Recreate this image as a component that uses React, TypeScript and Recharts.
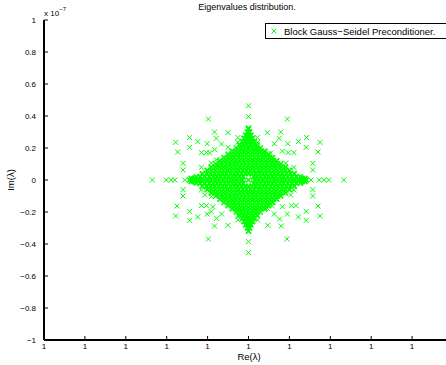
import { ScatterChart, Scatter, XAxis, YAxis } from "recharts";

// x axis: offset of Re(lambda) from 1, in tick steps (every tick reads "1")
const xTicks = [-5, -4, -3, -2, -1, 0, 1, 2, 3, 4];
// y axis: Im(lambda) in units of 1e-7
const yTicks = [-1, -0.8, -0.6, -0.4, -0.2, 0, 0.2, 0.4, 0.6, 0.8, 1];

// dense core of the cloud, row by row: [im, re values]
const coreRows: [number, number[]][] = [
  [0.32, [0.0]],
  [0.3, [-0.03, 0.03]],
  [0.28, [-0.07, 0.0, 0.06]],
  [0.26, [-0.11, -0.03, 0.04, 0.1]],
  [0.24, [-0.15, -0.07, 0.0, 0.07, 0.14]],
  [0.22, [-0.22, -0.13, -0.05, 0.04, 0.12, 0.21]],
  [0.2, [-0.3, -0.21, -0.12, -0.04, 0.05, 0.13, 0.21, 0.29]],
  [0.18, [-0.4, -0.31, -0.22, -0.13, -0.05, 0.05, 0.14, 0.22, 0.31, 0.4]],
  [0.16, [-0.5, -0.41, -0.32, -0.23, -0.14, -0.05, 0.05, 0.14, 0.23, 0.32, 0.41, 0.49]],
  [0.14, [-0.6, -0.51, -0.42, -0.33, -0.24, -0.15, -0.05, 0.05, 0.15, 0.24, 0.33, 0.42, 0.51, 0.59]],
  [0.12, [-0.7, -0.61, -0.52, -0.42, -0.33, -0.24, -0.14, -0.05, 0.05, 0.14, 0.24, 0.33, 0.42, 0.52, 0.61, 0.69]],
  [0.1, [-0.8, -0.71, -0.62, -0.52, -0.43, -0.34, -0.25, -0.15, -0.05, 0.05, 0.15, 0.24, 0.34, 0.43, 0.52, 0.62, 0.71, 0.79]],
  [0.08, [-0.91, -0.81, -0.71, -0.61, -0.52, -0.42, -0.33, -0.23, -0.14, -0.04, 0.05, 0.14, 0.24, 0.33, 0.43, 0.52, 0.62, 0.71, 0.8, 0.9]],
  [0.06, [-1.01, -0.91, -0.81, -0.71, -0.62, -0.52, -0.43, -0.33, -0.24, -0.14, -0.05, 0.05, 0.14, 0.24, 0.33, 0.43, 0.52, 0.62, 0.71, 0.81, 0.9, 1.0]],
  [0.04, [-1.13, -1.02, -0.92, -0.82, -0.72, -0.63, -0.54, -0.44, -0.35, -0.26, -0.17, -0.08, 0.0, 0.08, 0.17, 0.26, 0.35, 0.44, 0.54, 0.63, 0.72, 0.82, 0.92, 1.02, 1.12]],
  [0.02, [-1.28, -1.18, -1.07, -0.96, -0.86, -0.77, -0.68, -0.58, -0.49, -0.4, -0.31, -0.22, -0.13, 0.13, 0.21, 0.3, 0.4, 0.49, 0.58, 0.67, 0.77, 0.86, 0.96, 1.06, 1.17, 1.27]],
  [0.01, [-1.4, -1.33, 1.31, 1.38]],
  [0.0, [-1.44, -1.37, -1.3, -1.22, -1.15, -1.07, -0.99, -0.92, -0.84, -0.76, -0.69, -0.61, -0.53, -0.45, -0.38, -0.3, -0.22, -0.15, 0.0, 0.15, 0.22, 0.3, 0.37, 0.45, 0.53, 0.61, 0.68, 0.76, 0.84, 0.91, 0.99, 1.07, 1.14, 1.22, 1.29, 1.36, 1.41]],
  [-0.01, [-1.4, -1.33, 1.31, 1.38]],
  [-0.02, [-1.28, -1.18, -1.07, -0.96, -0.86, -0.77, -0.68, -0.58, -0.49, -0.4, -0.31, -0.22, -0.13, 0.13, 0.21, 0.3, 0.4, 0.49, 0.58, 0.67, 0.77, 0.86, 0.96, 1.06, 1.17, 1.27]],
  [-0.04, [-1.13, -1.02, -0.92, -0.82, -0.72, -0.63, -0.54, -0.44, -0.35, -0.26, -0.17, -0.08, 0.0, 0.08, 0.17, 0.26, 0.35, 0.44, 0.54, 0.63, 0.72, 0.82, 0.92, 1.02, 1.12]],
  [-0.06, [-1.01, -0.91, -0.81, -0.71, -0.62, -0.52, -0.43, -0.33, -0.24, -0.14, -0.05, 0.05, 0.14, 0.24, 0.33, 0.43, 0.52, 0.62, 0.71, 0.81, 0.9, 1.0]],
  [-0.08, [-0.91, -0.81, -0.71, -0.61, -0.52, -0.42, -0.33, -0.23, -0.14, -0.04, 0.05, 0.14, 0.24, 0.33, 0.43, 0.52, 0.62, 0.71, 0.8, 0.9]],
  [-0.1, [-0.8, -0.71, -0.62, -0.52, -0.43, -0.34, -0.25, -0.15, -0.05, 0.05, 0.15, 0.24, 0.34, 0.43, 0.52, 0.62, 0.71, 0.79]],
  [-0.12, [-0.7, -0.61, -0.52, -0.42, -0.33, -0.24, -0.14, -0.05, 0.05, 0.14, 0.24, 0.33, 0.42, 0.52, 0.61, 0.69]],
  [-0.14, [-0.6, -0.51, -0.42, -0.33, -0.24, -0.15, -0.05, 0.05, 0.15, 0.24, 0.33, 0.42, 0.51, 0.59]],
  [-0.16, [-0.5, -0.41, -0.32, -0.23, -0.14, -0.05, 0.05, 0.14, 0.23, 0.32, 0.41, 0.49]],
  [-0.18, [-0.4, -0.31, -0.22, -0.13, -0.05, 0.05, 0.14, 0.22, 0.31, 0.4]],
  [-0.2, [-0.3, -0.21, -0.12, -0.04, 0.05, 0.13, 0.21, 0.29]],
  [-0.22, [-0.22, -0.13, -0.05, 0.04, 0.12, 0.21]],
  [-0.24, [-0.15, -0.07, 0.0, 0.07, 0.14]],
  [-0.26, [-0.11, -0.03, 0.04, 0.1]],
  [-0.28, [-0.07, 0.0, 0.06]],
  [-0.3, [-0.03, 0.03]],
  [-0.32, [0.0]],
];

// scattered eigenvalues around the core: [re, im]
const outliers: [number, number][] = [
  [0, 0.464], [0, 0.396], [0, 0.327],
  [0, -0.319], [0, -0.385], [0, -0.454],
  [-0.98, 0.381], [0.95, 0.381],
  [-0.83, 0.3], [-0.5, 0.296], [0.46, 0.296], [0.79, 0.3],
  [-1.44, 0.265], [-0.79, 0.26], [-0.26, 0.265], [0.22, 0.265], [0.75, 0.26], [1.42, 0.265],
  [-1.78, 0.235], [-1.24, 0.24], [-1.01, 0.227], [-0.66, 0.225], [-0.26, 0.235], [0.22, 0.235],
  [0.63, 0.227], [0.96, 0.227], [1.22, 0.24], [1.75, 0.235],
  [-1.44, 0.204], [-0.5, 0.204], [-0.83, 0.19], [1.41, 0.204],
  [-1.73, 0.175], [-1.15, 0.171], [-1.03, 0.171], [-0.95, 0.169], [0.54, 0.169], [0.83, 0.18],
  [0.97, 0.171], [1.11, 0.171], [1.7, 0.175],
  [-1.6, 0.104], [-1.6, 0.0625], [1.57, 0.104], [1.57, 0.0625],
  [-1.15, 0.079], [-0.91, 0.106], [-0.79, 0.127], [1.11, 0.079], [0.91, 0.106],
  [-2.35, 0], [-2.01, 0], [-1.89, 0], [-1.8, 0], [-1.56, 0],
  [1.53, 0], [1.73, 0], [1.85, 0], [1.96, 0], [2.33, 0],
  [-1.6, -0.06], [-1.6, -0.1], [1.57, -0.06], [1.57, -0.1],
  [-1.15, -0.0625], [-1.07, -0.094], [-0.91, -0.104], [1.11, -0.0625], [1.03, -0.094],
  [-1.75, -0.1625], [-1.15, -0.16], [-1.03, -0.16], [-0.87, -0.167], [0.46, -0.177], [0.58, -0.1625],
  [0.83, -0.167], [1.05, -0.16], [1.16, -0.16], [1.7, -0.1625],
  [-1.44, -0.196], [-0.91, -0.198], [1.41, -0.196],
  [-1.78, -0.225], [-1.24, -0.231], [-1.01, -0.2125], [-0.66, -0.2125], [-0.26, -0.225], [0.22, -0.225],
  [0.63, -0.2125], [0.95, -0.213], [1.22, -0.231], [1.75, -0.225],
  [-1.44, -0.252], [-0.26, -0.25], [0.22, -0.25], [0.76, -0.244], [1.41, -0.252], [-0.78, -0.24],
  [-0.83, -0.2875], [-0.5, -0.283], [0.47, -0.283], [0.8, -0.2875],
  [-0.98, -0.369], [0.94, -0.369],
];

const corePoints = coreRows.flatMap(([im, res]) => res.map((re) => ({ re, im })));
const outlierPoints = outliers.map(([re, im]) => ({ re, im }));

const GREEN = "#00ff00";
const FONT = "'Liberation Sans', Arial, Helvetica, sans-serif";

const makeCross = (sw: number) => (p: any) => {
  const { cx, cy } = p;
  if (cx == null || cy == null) return <g />;
  const r = 2.5;
  return (
    <path
      d={`M${cx - r},${cy - r}L${cx + r},${cy + r}M${cx - r},${cy + r}L${cx + r},${cy - r}`}
      stroke={GREEN}
      strokeWidth={sw}
      fill="none"
    />
  );
};
const CoreCross = makeCross(1.7);
const Cross = makeCross(1);

const fmtY = (v: number) => (v < 0 ? "\u2212" : "") + String(Math.abs(v));

export default function App() {
  const tickStyle = { fill: "#000", fontSize: 8, fontFamily: FONT };
  return (
    <div
      style={{
        position: "absolute",
        left: 0,
        top: 0,
        width: 446,
        height: 365,
        overflow: "hidden",
        background: "#fff",
        fontFamily: FONT,
      }}
    >
      <ScatterChart width={470} height={365} margin={{ top: 20, right: 17, bottom: 0, left: 0 }}>
        <XAxis
          dataKey="re"
          type="number"
          domain={[-5, 5]}
          ticks={xTicks}
          interval={0}
          tickFormatter={() => "1"}
          height={25}
          tickSize={-4}
          tickMargin={7}
          tick={tickStyle}
          axisLine={{ stroke: "#000", strokeWidth: 2 }}
          tickLine={{ stroke: "#000" }}
        />
        <XAxis
          xAxisId="top"
          orientation="top"
          dataKey="re"
          type="number"
          domain={[-5, 5]}
          ticks={xTicks}
          interval={0}
          tickFormatter={() => ""}
          height={0}
          tickSize={-4}
          axisLine={{ stroke: "#000", strokeWidth: 1 }}
          tickLine={{ stroke: "#000" }}
        />
        <YAxis
          dataKey="im"
          type="number"
          domain={[-1, 1]}
          ticks={yTicks}
          interval={0}
          tickFormatter={fmtY}
          width={44}
          tickSize={-4}
          tickMargin={12}
          tick={tickStyle}
          axisLine={{ stroke: "#000", strokeWidth: 2 }}
          tickLine={{ stroke: "#000" }}
        />
        <Scatter data={corePoints} shape={CoreCross} isAnimationActive={false} />
        <Scatter data={outlierPoints} shape={Cross} isAnimationActive={false} />
      </ScatterChart>

      <div style={{ position: "absolute", left: 0, width: 494, top: 2, textAlign: "center", fontSize: 9 }}>
        Eigenvalues distribution.
      </div>
      <div style={{ position: "absolute", left: 44, top: 7, fontSize: 8 }}>
        x 10<sup style={{ fontSize: 6, position: "relative", top: -1 }}>{"\u22127"}</sup>
      </div>
      <div
        style={{
          position: "absolute",
          left: 10,
          top: 180,
          fontSize: 9.5,
          transform: "translate(-50%, -50%) rotate(-90deg)",
          whiteSpace: "nowrap",
        }}
      >
        Im(λ)
      </div>
      <div style={{ position: "absolute", left: 0, width: 498, top: 351, textAlign: "center", fontSize: 9.5 }}>
        Re(λ)
      </div>
      <div
        style={{
          position: "absolute",
          left: 265,
          top: 23,
          width: 260,
          height: 14,
          border: "1px solid #000",
          background: "#fff",
          fontSize: 9.5,
          display: "flex",
          alignItems: "center",
        }}
      >
        <svg width={16} height={14} style={{ flex: "none" }}>
          <path d="M5.5,4.5L10.5,9.5M5.5,9.5L10.5,4.5" stroke={GREEN} strokeWidth={1} />
        </svg>
        <span style={{ marginLeft: 2, whiteSpace: "nowrap" }}>Block Gauss{"\u2212"}Seidel Preconditioner.</span>
      </div>
    </div>
  );
}
